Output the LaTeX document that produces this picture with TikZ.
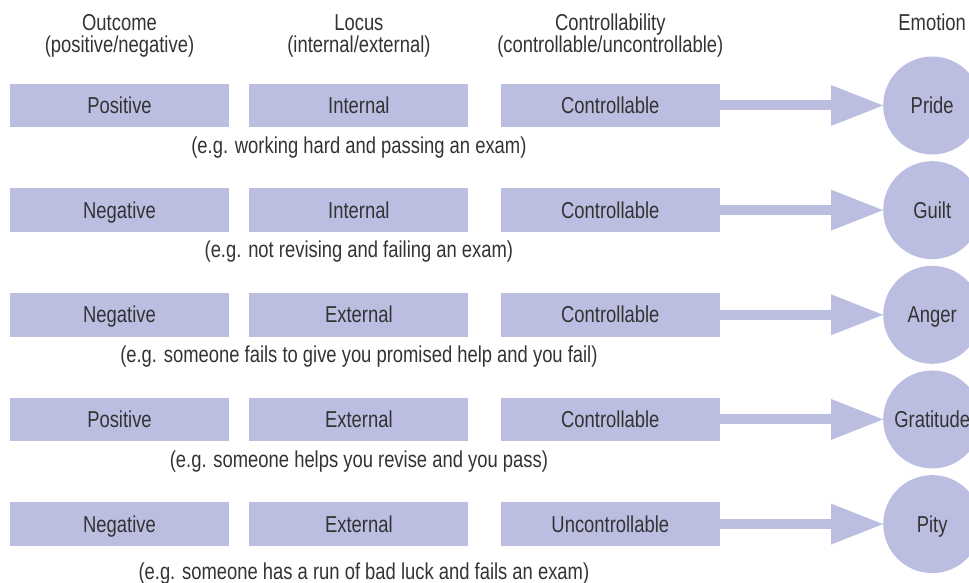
\documentclass[tikz,border=0pt]{standalone}
\usepackage{fontspec}
\setmainfont{Liberation Sans}[FakeStretch=0.8]
\usetikzlibrary{arrows.meta,positioning}
\definecolor{lilas}{HTML}{BBBEE1}
\definecolor{texto}{HTML}{333333}

\begin{document}
\begin{tikzpicture}[
  x=1pt,y=1pt,
  node distance=20pt,
  caixa/.style={fill=lilas,minimum width=219pt,minimum height=43.5pt,inner sep=0pt,
                text height=20pt,text depth=4pt,
                font=\fontsize{23}{22}\selectfont,text=texto},
  emocao/.style={circle,fill=lilas,minimum size=98pt,inner sep=0pt,
                 text height=20pt,text depth=4pt,
                 font=\fontsize{23}{22}\selectfont,text=texto},
  titulo/.style={align=center,inner sep=0pt,font=\fontsize{23}{22}\selectfont,text=texto},
  exemplo/.style={inner sep=0pt,font=\fontsize{23}{22}\selectfont,text=texto},
  seta/.style={-{Triangle[length=52pt,width=41pt,line width=0pt]},line width=10pt,lilas}
]
  \useasboundingbox (0,0) rectangle (969,-583);
  \clip (0,0) rectangle (969,-583);

  % linha 1
  \node[caixa] (res1) at (119.5,-105.5) {Positive};
  \node[caixa,right=of res1] (loc1) {Internal};
  \node[caixa,right=32pt of loc1] (con1) {Controllable};
  \node[emocao,right=163pt of con1] (emo1) {Pride};
  \draw[seta] (con1) -- (emo1);
  \node[exemplo,below=9pt of loc1] (ex1) {(e.g. working hard and passing an exam)};

  % linha 2
  \node[caixa,below=60.75pt of res1] (res2) {Negative};
  \node[caixa,right=of res2] (loc2) {Internal};
  \node[caixa,right=32pt of loc2] (con2) {Controllable};
  \node[emocao,right=163pt of con2] (emo2) {Guilt};
  \draw[seta] (con2) -- (emo2);
  \node[exemplo,below=9pt of loc2] (ex2) {(e.g. not revising and failing an exam)};

  % linha 3
  \node[caixa,below=60.75pt of res2] (res3) {Negative};
  \node[caixa,right=of res3] (loc3) {External};
  \node[caixa,right=32pt of loc3] (con3) {Controllable};
  \node[emocao,right=163pt of con3] (emo3) {Anger};
  \draw[seta] (con3) -- (emo3);
  \node[exemplo,below=9pt of loc3] (ex3) {(e.g. someone fails to give you promised help and you fail)};

  % linha 4
  \node[caixa,below=60.75pt of res3] (res4) {Positive};
  \node[caixa,right=of res4] (loc4) {External};
  \node[caixa,right=32pt of loc4] (con4) {Controllable};
  \node[emocao,right=163pt of con4] (emo4) {Gratitude};
  \draw[seta] (con4) -- (emo4);
  \node[exemplo,below=9pt of loc4] (ex4) {(e.g. someone helps you revise and you pass)};

  % linha 5
  \node[caixa,below=60.75pt of res4] (res5) {Negative};
  \node[caixa,right=of res5] (loc5) {External};
  \node[caixa,right=32pt of loc5] (con5) {Uncontrollable};
  \node[emocao,right=163pt of con5] (emo5) {Pity};
  \draw[seta] (con5) -- (emo5);
  \node[exemplo,below=17pt of loc5,xshift=5pt] (ex5) {(e.g. someone has a run of bad luck and fails an exam)};

  % titulos
  \node[titulo,above=26pt of res1] (tres) {Outcome\\(positive/negative)};
  \node[titulo,above=26pt of loc1] (tloc) {Locus\\(internal/external)};
  \node[titulo,above=26pt of con1] (tcon) {Controllability\\(controllable/uncontrollable)};
  \node[titulo,above=25.5pt of emo1] (temo) {Emotion};
\end{tikzpicture}
\end{document}
